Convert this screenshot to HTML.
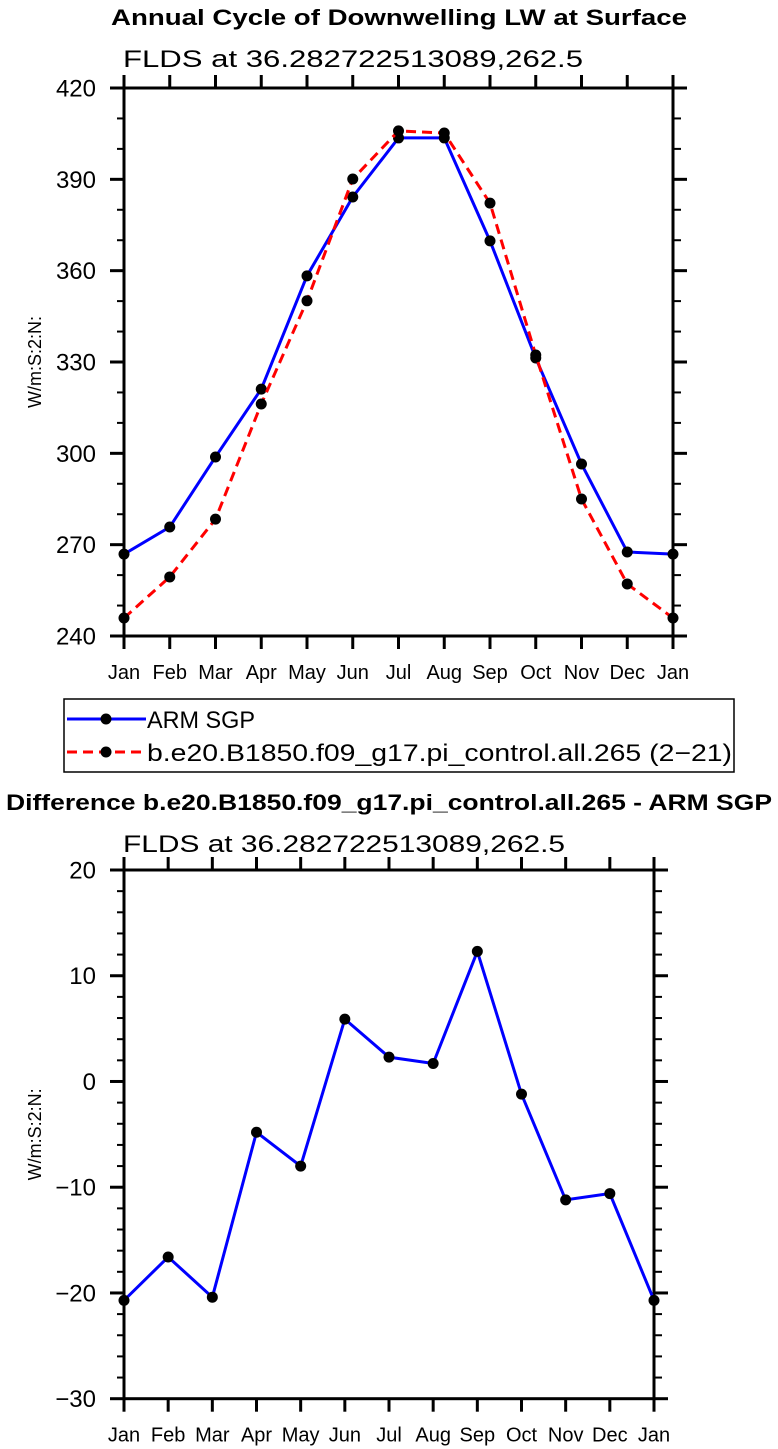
<!DOCTYPE html>
<html><head><meta charset="utf-8"><style>
html,body{margin:0;padding:0;background:#fff;}
svg{display:block;font-family:"Liberation Sans",sans-serif;}
</style></head><body>
<svg id="c" width="778" height="1449" viewBox="0 0 778 1449"></svg>
<script>
const months = ["Jan","Feb","Mar","Apr","May","Jun","Jul","Aug","Sep","Oct","Nov","Dec","Jan"];
const armSgp = [266.9,275.8,298.8,321.1,358.3,384.2,403.6,403.6,369.8,331.3,296.5,267.6,266.9];
const model = [245.9,259.4,278.4,316.2,350.1,390.1,405.9,405.2,382.2,332.3,285.0,257.1,245.9];
const diff = [-20.7,-16.6,-20.4,-4.8,-8.0,5.9,2.3,1.7,12.3,-1.2,-11.2,-10.6,-20.7];
const topTicks = [240,270,300,330,360,390,420];
const topMinor = [250,260,280,290,310,320,340,350,370,380,400,410];
const botTicks = [-30,-20,-10,0,10,20];
const botTickLabels = ["\u221230","\u221220","\u221210","0","10","20"];

const NS="http://www.w3.org/2000/svg";
const svg=document.getElementById('c');
function mk(tag,attrs,parent){const e=document.createElementNS(NS,tag);for(const k in attrs)e.setAttribute(k,attrs[k]);(parent||svg).appendChild(e);return e;}
function txt(s,attrs,parent){const e=mk('text',attrs,parent);e.textContent=s;return e;}

function panel(cfg){
  const g=mk('g',{});
  
  
  const {x0,x1,y0,y1,vmin,vmax}=cfg;
  const X=i=>x0+(x1-x0)*i/(months.length-1);
  const Y=v=>y1-(v-vmin)/(vmax-vmin)*(y1-y0);
  const fr=mk('rect',{x:x0,y:y0,width:x1-x0,height:y1-y0,fill:'none',stroke:'#000','stroke-width':3},g);
  
  
  months.forEach((m,i)=>{
    const x=X(i);
    mk('line',{x1:x,x2:x,y1:y1,y2:y1+13,stroke:'#000','stroke-width':3},g);
    mk('line',{x1:x,x2:x,y1:y0,y2:y0-13,stroke:'#000','stroke-width':3},g);
    const t=txt(m,{x:x,y:y1+43,'font-size':20,'text-anchor':'middle'},g);
    
    
  });
  cfg.ticks.forEach((v,i)=>{
    const y=Y(v);
    mk('line',{x1:x0-14,x2:x0,y1:y,y2:y,stroke:'#000','stroke-width':3},g);
    mk('line',{x1:x1,x2:x1+14,y1:y,y2:y,stroke:'#000','stroke-width':3},g);
    const t=txt(cfg.labels[i],{x:x0-28,y:y+8.5,'font-size':24,'text-anchor':'end'},g);
    
    
  });
  cfg.minor.forEach(v=>{
    const y=Y(v);
    mk('line',{x1:x0-7,x2:x0,y1:y,y2:y,stroke:'#000','stroke-width':2},g);
    mk('line',{x1:x1,x2:x1+8,y1:y,y2:y,stroke:'#000','stroke-width':2},g);
  });
  const yt=txt('W/m:S:2:N:',{x:0,y:0,'font-size':18,'text-anchor':'middle',transform:`translate(41,${(y0+y1)/2}) rotate(-90)`},g);
  
  
  cfg.series.forEach(s=>{
    const pts=s.vals.map((v,i)=>X(i)+','+Y(v)).join(' ');
    const pl=mk('polyline',{points:pts,fill:'none',stroke:s.color,'stroke-width':3,'stroke-dasharray':s.dash||'none'},g);
    
    
    s.vals.forEach((v,i)=>{
      const c=mk('circle',{cx:X(i),cy:Y(v),r:5.5,fill:'#000'},g);
      
      
    });
  });
}

let t=txt('Annual Cycle of Downwelling LW at Surface',{x:399,y:25,'font-size':22,'font-weight':'bold','text-anchor':'middle',textLength:576,lengthAdjust:'spacingAndGlyphs'});


t=txt('FLDS at 36.282722513089,262.5',{x:123,y:67,'font-size':24,textLength:460,lengthAdjust:'spacingAndGlyphs'});



panel({name:'annual-cycle-panel',x0:124,x1:673,y0:88,y1:636,vmin:240,vmax:420,ticks:topTicks,labels:topTicks.map(String),minor:topMinor,
  series:[{name:'arm-sgp',vals:armSgp,color:'#0000ff'},{name:'model',vals:model,color:'#ff0000',dash:'10 6'}]});

const lg=mk('g',{});


mk('rect',{x:64,y:699,width:670,height:73,fill:'#fff',stroke:'#000','stroke-width':1.5},lg);
mk('line',{x1:67,x2:146,y1:719,y2:719,stroke:'#0000ff','stroke-width':3},lg);
mk('circle',{cx:106,cy:719,r:5.5,fill:'#000'},lg);
t=txt('ARM SGP',{x:147,y:728,'font-size':24,textLength:108,lengthAdjust:'spacingAndGlyphs'},lg);


mk('line',{x1:67,x2:146,y1:752,y2:752,stroke:'#ff0000','stroke-width':3,'stroke-dasharray':'10 6'},lg);
mk('circle',{cx:106,cy:752,r:5.5,fill:'#000'},lg);
t=txt('b.e20.B1850.f09_g17.pi_control.all.265 (2\u221221)',{x:147,y:761,'font-size':24,textLength:585,lengthAdjust:'spacingAndGlyphs'},lg);



t=txt('Difference b.e20.B1850.f09_g17.pi_control.all.265 - ARM SGP',{x:389,y:810,'font-size':22,'font-weight':'bold','text-anchor':'middle',textLength:766,lengthAdjust:'spacingAndGlyphs'});


t=txt('FLDS at 36.282722513089,262.5',{x:123,y:852,'font-size':24,textLength:442,lengthAdjust:'spacingAndGlyphs'});



panel({name:'difference-panel',x0:124,x1:654,y0:870,y1:1398.7,vmin:-30,vmax:20,ticks:botTicks,labels:botTickLabels,
  minor:[-28,-26,-24,-22,-18,-16,-14,-12,-8,-6,-4,-2,2,4,6,8,12,14,16,18],
  series:[{name:'difference',vals:diff,color:'#0000ff'}]});
</script>
</body></html>
